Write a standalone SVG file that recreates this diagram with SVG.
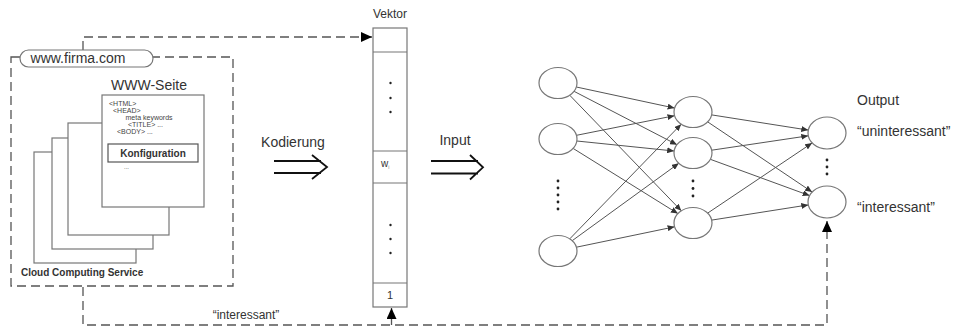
<svg xmlns="http://www.w3.org/2000/svg" width="956" height="327" viewBox="0 0 956 327">
<style>
text{font-family:"Liberation Sans",Arial,sans-serif;fill:#333}
.lbl{font-size:14px}
.dash{fill:none;stroke:#555;stroke-width:1.3;stroke-dasharray:9 5}
.page{fill:#fff;stroke:#777;stroke-width:1.2}
.node{fill:#fff;stroke:#777;stroke-width:1.2}
.edge{fill:none;stroke:#555;stroke-width:1;marker-end:url(#ah)}
.dbl{fill:none;stroke:#111;stroke-width:1.8}
.dot{fill:#222}
.html{font-size:7px;fill:#444}
</style>
<defs>
<marker id="ah" markerWidth="7" markerHeight="6" refX="7" refY="3" orient="auto" markerUnits="userSpaceOnUse"><path d="M0,0 L7,3 L0,6 Z" fill="#333"/></marker>
<marker id="big" markerWidth="11" markerHeight="10" refX="11" refY="5" orient="auto" markerUnits="userSpaceOnUse"><path d="M0,0 L11,5 L0,10 Z" fill="#000"/></marker>
</defs>

<g id="connectors">
<path class="dash" d="M83,50 V37 H372" marker-end="url(#big)"/>
<path class="dash" d="M83,287 V325 H827 V221" marker-end="url(#big)"/>
<path class="dash" d="M391.5,325 V308" marker-end="url(#big)"/>
<line class="edge" x1="576.4" y1="87" x2="674.6" y2="108.1"/>
<line class="edge" x1="574" y1="91.3" x2="677" y2="144.7"/>
<line class="edge" x1="569.7" y1="95.2" x2="681.3" y2="210.8"/>
<line class="edge" x1="576.5" y1="135.3" x2="674.5" y2="115.7"/>
<line class="edge" x1="576.8" y1="141" x2="674.2" y2="151"/>
<line class="edge" x1="573.1" y1="148.4" x2="677.9" y2="213.6"/>
<line class="edge" x1="569.8" y1="238.8" x2="681.2" y2="124.2"/>
<line class="edge" x1="572.2" y1="240.7" x2="678.8" y2="163.3"/>
<line class="edge" x1="576.4" y1="247.2" x2="674.6" y2="226.8"/>
<line class="edge" x1="711.7" y1="114.9" x2="808.3" y2="130.1"/>
<line class="edge" x1="707.7" y1="121.9" x2="812.1" y2="192"/>
<line class="edge" x1="711.7" y1="150.2" x2="808.3" y2="135.8"/>
<line class="edge" x1="710.3" y1="159.3" x2="809.6" y2="195.6"/>
<line class="edge" x1="707.7" y1="213.1" x2="812.1" y2="143"/>
<line class="edge" x1="711.7" y1="220.1" x2="808.3" y2="204.9"/>
</g>

<g id="cloud">
<rect class="dash" x="11" y="57" width="222" height="229"/>
<rect x="20" y="50" width="133" height="17" rx="8.5" fill="#fff" stroke="#777" stroke-width="1.2"/>
<text class="lbl" x="78" y="63" text-anchor="middle">www.firma.com</text>
<text x="21" y="275.5" font-size="10" font-weight="bold" fill="#222">Cloud Computing Service</text>
</g>

<g id="pages">
<rect class="page" x="34" y="152" width="102" height="111"/>
<rect class="page" x="52" y="138" width="101" height="111"/>
<rect class="page" x="68" y="123" width="101" height="112"/>
<rect class="page" x="102" y="95" width="102" height="112"/>
<text class="lbl" x="149" y="90" text-anchor="middle">WWW-Seite</text>
<text class="html" x="109" y="106">&lt;HTML&gt;</text>
<text class="html" x="113" y="113">&lt;HEAD&gt;</text>
<text class="html" x="125.5" y="120">meta keywords</text>
<text class="html" x="128" y="127">&lt;TITLE&gt; ...</text>
<text class="html" x="117" y="134">&lt;BODY&gt; ...</text>
<rect x="108" y="144" width="90" height="18" fill="#fff" stroke="#555" stroke-width="1.2"/>
<text x="153" y="156.5" font-size="10" font-weight="bold" text-anchor="middle" fill="#222">Konfiguration</text>
<text x="124" y="169" font-size="6" fill="#aaa">...</text>
</g>

<g id="kodierung">
<text class="lbl" x="293" y="147" text-anchor="middle">Kodierung</text>
<path class="dbl" d="M274,161 H321 M274,173 H321 M312,155 L327,167 L312,179"/>
</g>

<g id="vektor">
<text x="390" y="17.5" font-size="12" text-anchor="middle">Vektor</text>
<rect x="373" y="28" width="34" height="279" fill="#fff" stroke="#777" stroke-width="1.2"/>
<path d="M373,52 H407 M373,151 H407 M373,183 H407 M373,283 H407" stroke="#777" stroke-width="1.2"/>
<circle class="dot" cx="390.5" cy="83" r="1.2"/>
<circle class="dot" cx="390.5" cy="98" r="1.2"/>
<circle class="dot" cx="390.5" cy="112" r="1.2"/>
<circle class="dot" cx="390.5" cy="225" r="1.2"/>
<circle class="dot" cx="390.5" cy="239" r="1.2"/>
<circle class="dot" cx="390.5" cy="253" r="1.2"/>
<text x="381" y="167" font-size="10">w<tspan font-size="5" dy="2" fill="#888">i</tspan></text>
<text x="390" y="299" font-size="11" text-anchor="middle">1</text>
</g>

<g id="input">
<text class="lbl" x="455" y="145" text-anchor="middle">Input</text>
<path class="dbl" d="M431,161 H478 M431,173.5 H478 M470,155 L483,167.3 L470,179.5"/>
</g>

<g id="in1"><ellipse class="node" cx="558" cy="83" rx="19" ry="15.5"/></g>
<g id="in2"><ellipse class="node" cx="558" cy="139" rx="19" ry="15.5"/></g>
<g id="in-dots">
<circle class="dot" cx="558" cy="181" r="1.4"/>
<circle class="dot" cx="558" cy="188" r="1.4"/>
<circle class="dot" cx="558" cy="195" r="1.4"/>
<circle class="dot" cx="558" cy="202" r="1.4"/>
<circle class="dot" cx="558" cy="209" r="1.4"/>
</g>
<g id="in3"><ellipse class="node" cx="558" cy="251" rx="19" ry="15.5"/></g>

<g id="h1"><ellipse class="node" cx="693" cy="112" rx="19" ry="15.5"/></g>
<g id="h2"><ellipse class="node" cx="693" cy="153" rx="19" ry="15.5"/></g>
<g id="h-dots">
<circle class="dot" cx="693" cy="181" r="1.4"/>
<circle class="dot" cx="693" cy="188.5" r="1.4"/>
<circle class="dot" cx="693" cy="196" r="1.4"/>
</g>
<g id="h3"><ellipse class="node" cx="693" cy="223" rx="19" ry="15.5"/></g>

<g id="out1"><ellipse class="node" cx="827" cy="133" rx="19" ry="16"/>
<text class="lbl" x="857" y="136">“uninteressant”</text></g>
<g id="out-dots">
<circle class="dot" cx="827" cy="160" r="1.4"/>
<circle class="dot" cx="827" cy="167" r="1.4"/>
<circle class="dot" cx="827" cy="174" r="1.4"/>
</g>
<g id="out2"><ellipse class="node" cx="827" cy="202" rx="19" ry="16"/>
<text class="lbl" x="857" y="211.5">“interessant”</text></g>
<text class="lbl" x="857" y="105">Output</text>

<text x="246" y="319" font-size="12" text-anchor="middle">“interessant”</text>
</svg>
